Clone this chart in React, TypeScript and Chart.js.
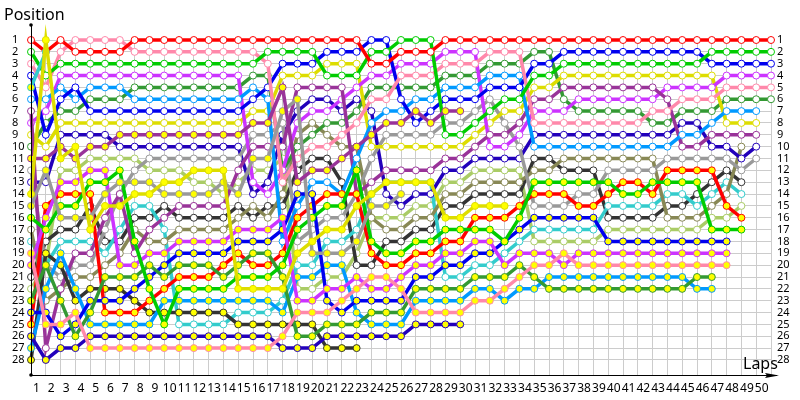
import React, { useEffect, useRef } from "react";
import { Chart, registerables } from "chart.js";

Chart.register(...registerables);

const lapLabels = ["1","2","3","4","5","6","7","8","9","10","11","12","13","14","15","16","17","18","19","20","21","22","23","24","25","26","27","28","29","30","31","32","33","34","35","36","37","38","39","40","41","42","43","44","45","46","47","48","49","50",""];

const RED = "#ff0000", GREEN = "#00cc00", PINK = "#ff88aa", BLUE = "#0000ee", SKY = "#0099ff", PURPLE = "#993399", VIOLET = "#cc33ff", YELLOW = "#dddd00", DGREEN = "#339933", GRAY = "#999999", NAVY = "#2200bb", OLIVE = "#888855", CYAN = "#33cccc", DARK = "#333333", LIME = "#aacc66";

const redW = [1,2,1,2,2,2,2,1,1,1, 1,1,1,1,1,1,1,1,1,1, 1,1,1,3,3,2,2,2,1,1, 1,1,1,1,1,1,1,1,1,1, 1,1,1,1,1,1,1,1,1,1,1];
const greenW = [2,4,3,3,3,3,3,3,3,3, 3,3,3,3,3,3,2,2,2,2, 4,4,4,2,2,1,1,1,9,9, 8,7,6,6,4,4,3,3,3,3, 3,3,3,3,3,3,2,2,2,2,2];
const pinkW = [3,5,2,1,1,1,1,2,2,2, 2,2,2,2,2,2,3,13,11,10, 10,9,8,6,6,4,4,4,3,3, 3,2,2,2,8,8,8,8,8,8, 8,8,7,7,6,6,6,5,5,5,5];
const blueW = [4,9,6,5,7,7,7,7,7,7, 7,7,7,7,7,6,5,3,3,3, 2,2,2,1,1,6,8,7,6,6, 6,5,5,5,3,3,2,2,2,2, 2,2,2,2,2,2,3,3,3,3,3];
const skyW = [6,6,5,6,5,5,5,6,6,6, 6,6,6,6,6,5,6,18,15,13, 13,14,11,8,7,7,6,6,5,5, 5,4,4,4,10,10,10,10,10,10, 10,10,10,10,9,9,8,7,7,7];
const purpleW = [7,27,22,19,19,16,14,19,17,16, 15,15,15,15,12,10,10,10,5,5, 5,5,14,13,12,12,12,12,11,11, 10,9,9,8,6,6,5,5,5,5, 5,5,5,6,10,10,9,9,9,9];
const violetW = [8,7,4,4,4,4,4,4,4,4, 4,4,4,4,4,13,14,12,8,7, 7,6,5,4,4,3,3,3,2,2, 2,10,10,9,7,7,7,6,6,6, 6,6,6,5,5,5,5,4,4,4,4];
const yellowW = [9,10,8,8,8,8,8,8,8,8, 8,8,8,8,8,7,7,4,4,4, 3,3,3,10,10,10,10,10,10,10, 9,8,7,7,5,5,4,4,4,4, 4,4,4,4,4,4,4,8,8,8];
const dgreenW = [10,8,7,7,6,6,6,5,5,5, 5,5,5,5,5,4,4,12,10,9, 8,8,7,5,5,5,5,5,4,4, 4,3,3,3,2,2,6,7,7,7, 7,7,8,8,7,7,7,6,6,6,6];
const grayW = [12,20,21,20,20,17,14,12,11,11, 11,11,11,11,11,9,9,8,18,17, 16,16,14,11,9,9,9,9,8,8, 7,6,8,10,15,15,15,14,14,12, 12,12,12,11,11,11,11,11,12,11];
const navyW = [13,13,9,9,9,9,10,10,10,10, 10,10,10,10,10,14,13,9,7,6, 6,7,6,7,14,15,14,14,12,12, 11,11,11,11,9,9,9,9,9,9, 9,9,9,9,8,8,10,10,11,10];
const oliveW = [17,23,22,21,21,20,19,17,18,18, 17,17,17,17,16,15,16,14,9,8, 9,10,10,16,17,17,16,16,14,14, 13,13,13,13,12,12,11,11,11,11, 11,11,11,16,16,16,15,14,10];
const cyanW = [18,20,18,18,18,19,17,15,15,17, 25,25,25,25,24,24,24,23,20,20, 18,18,17,14,13,13,13,13,21,21, 20,20,19,18,17,17,17,17,17,15, 15,15,15,14,14,15,14,13,14];
const darkW = [21,18,17,17,15,18,18,16,16,15, 16,16,16,16,15,16,15,15,12,11, 11,13,20,20,18,18,17,17,15,15, 14,14,14,14,11,11,12,12,12,16, 16,16,16,15,15,14,13,12,13];
const limeW = [22,20,12,12,11,11,11,11,12,12, 12,13,13,14,13,12,12,11,22,22, 21,21,19,16,16,16,15,15,13,13, 12,12,12,12,18,18,18,18,18,17, 17,17,17,17,17,17,16,16,15];

const cyanF = [5,2];
const purpleF = [11,11,10,11,10,10,9,9,9,9, 9,9,9,9,9,8,8,5,13,12, 12,11,10,9,8,8,7,8,7,7];
const yellowF = [14,1,11,10,17,15,15,14,14,13, 13,12,12,12,22,22,22,22,19,18, 17,17,15,14,13,13,13,13,16,16, 15,15,15];
const grayF = [15,12,16,16,16,14,13,13,13,14, 14,14,14,13,14,11,11,7,6,19, 19,19,18,15,15,14];
const greenF = [16,17,15,15,13,13,12,18,22,25, 22,22,22,22,21,21,21,20,17,16, 15,15,12,18,19,19,18,18,17,17, 17,17,18,16,13,13,13,13,13,13, 14,14,13,13,13,13,17,17,17];
const pinkF = [19,25,25,24,27,27,27,27,27,27, 27,27,27,27,27,27,27,26,24,24, 24,23,22,21,21,22,24,24,24,24, 23,23,22,21,20,20,19,20,20,20, 20,20,20,20,20,20,20,20];
const violetF = [20,16,13,13,12,12,20,20,19,19, 18,18,18,18,17,17,17,16,23,23, 22,22,21,22,22,21,20,20,19,19, 18,18,20,19,19,19,20,19,19,19, 19,19,19,19,19,19,19,19];
const dgreenF = [23,20,23,26,24,21,21,21,20,21, 20,20,20,21,20,19,19,21,26,26, 25,25,25,24,24,24,22,22,22,22, 21,21,21,20,21,22,22,22,22,22, 22,22,22,22,22,21,21];
const blueF = [24,24,26,25,23,23,23,22,21,20, 19,19,19,19,18,18,18,17,14,14, 23,24,23,23,23,23,21,21,20,20, 19,19,18,17,16,16,16,16,16,18, 18,18,18,18,18,18,18,18];
const redF = [25,15,14,14,14,24,24,24,23,22, 21,21,21,20,19,20,20,19,16,15, 14,14,14,19,20,20,19,19,18,18, 16,16,16,15,14,14,14,15,15,14, 13,13,14,12,12,12,12,15,16];
const navyF = [26,28,27,27,26,26,26,26,26,26, 26,26,26,26,26,26,26,27,27,27, 26,26,26,26,26,26,25,25,25,25];
const skyF = [27,22,19,22,25,25,25,25,25,23, 23,23,23,23,23,23,23,24,21,21, 20,20,24,25,25,25,23,23,23,23, 22,22,23,22,22,21,21,21,21,21, 21,21,21,21,21,22,22];
const darkF = [28,19,20,23,22,22,22,23,24,24, 24,24,24,24,25,25,25,25,25,25, 27,27,27];

// First entries are painted last (on top) by Chart.js.
const filledSeries: [number[], string][] = [
  [yellowF, YELLOW], [cyanF, CYAN], [purpleF, PURPLE], [grayF, GRAY], [greenF, GREEN], [pinkF, PINK], [violetF, VIOLET],
  [dgreenF, DGREEN], [blueF, BLUE], [redF, RED], [navyF, NAVY], [skyF, SKY], [darkF, DARK],
];
const openSeries: [number[], string][] = [
  [redW, RED], [greenW, GREEN], [pinkW, PINK], [blueW, BLUE], [skyW, SKY], [purpleW, PURPLE], [violetW, VIOLET], [yellowW, YELLOW],
  [dgreenW, DGREEN], [grayW, GRAY], [navyW, NAVY], [oliveW, OLIVE], [cyanW, CYAN], [darkW, DARK], [limeW, LIME],
];

const FONT = "Noto Sans";

const axesPlugin = {
  id: "axesArrows",
  afterDraw(chart: any) {
    const { ctx, chartArea: a } = chart;
    ctx.save();
    ctx.strokeStyle = "#000";
    ctx.fillStyle = "#000";
    ctx.lineWidth = 1;
    ctx.beginPath();
    ctx.moveTo(Math.floor(a.left) + 0.5, a.bottom + 0.5);
    ctx.lineTo(Math.floor(a.left) + 0.5, 25);
    ctx.moveTo(a.left - 1, Math.floor(a.bottom) + 0.5);
    ctx.lineTo(a.right + 6, Math.floor(a.bottom) + 0.5);
    ctx.stroke();
    ctx.beginPath();
    ctx.arc(a.left, 25, 1.8, 0, Math.PI * 2);
    ctx.fill();
    ctx.beginPath();
    ctx.arc(a.left, a.bottom, 1.8, 0, Math.PI * 2);
    ctx.fill();
    ctx.beginPath();
    ctx.moveTo(a.right + 8, a.bottom + 0.5);
    ctx.lineTo(a.right - 6, a.bottom - 2);
    ctx.lineTo(a.right - 4, a.bottom + 0.5);
    ctx.lineTo(a.right - 6, a.bottom + 3);
    ctx.closePath();
    ctx.fill();
    ctx.font = `16px "${FONT}"`;
    ctx.textBaseline = "middle";
    ctx.textAlign = "left";
    ctx.fillText("Position", 4, 15);
    ctx.fillText("Laps", 743, 364);
    ctx.restore();
  },
};

export default function App() {
  const ref = useRef<HTMLCanvasElement>(null);
  useEffect(() => {
    if (!ref.current) return;
    const makeSet = (values: number[], color: string, filled: boolean) => ({
      data: values,
      borderColor: color,
      borderWidth: 3.5,
      tension: 0,
      clip: false,
      pointRadius: 3.5,
      pointBorderWidth: 1,
      pointBorderColor: color,
      pointBackgroundColor: filled ? "#ffff00" : "#ffffff",
      yAxisID: "y",
    });
    const tickY = (v: any) => (Number.isInteger(v) && v <= 28 ? String(v) : "");
    const chart = new Chart(ref.current, {
      type: "line",
      data: {
        labels: lapLabels,
        datasets: [
          ...filledSeries.map(([v, c]) => makeSet(v, c, true)),
          ...openSeries.map(([v, c]) => makeSet(v, c, false)),
        ],
      },
      options: {
        animation: false,
        responsive: false,
        layout: { padding: { top: 40, left: 12, right: 0, bottom: 0 } },
        plugins: { legend: { display: false }, title: { display: false }, tooltip: { enabled: false } },
        scales: {
          x: {
            type: "category",
            offset: false,
            afterFit: (s: any) => { s.height = 25; },
            grid: { color: "#cccccc", lineWidth: 1, drawTicks: false },
            border: { display: false },
            ticks: { autoSkip: false, maxRotation: 0, minRotation: 0, labelOffset: 5.5, padding: 6, color: "#000", font: { family: FONT, size: 12 } },
          },
          y: {
            type: "linear",
            position: "left",
            reverse: true,
            min: 1,
            max: 29.27,
            afterFit: (s: any) => { s.width = 19; },
            grid: { color: "#cccccc", lineWidth: 1, drawTicks: false },
            border: { display: false },
            ticks: { stepSize: 1, autoSkip: false, crossAlign: "far", padding: 0, color: "#000", font: { family: FONT, size: 11 }, callback: tickY },
          },
          y2: {
            type: "linear",
            position: "right",
            reverse: true,
            min: 1,
            max: 29.27,
            afterFit: (s: any) => { s.width = 29; },
            grid: { display: false, drawTicks: false },
            border: { display: false },
            ticks: { stepSize: 1, autoSkip: false, padding: 6, color: "#000", font: { family: FONT, size: 11 }, callback: tickY },
          },
        },
      },
      plugins: [axesPlugin],
    } as any);
    return () => chart.destroy();
  }, []);
  return (
    <div style={{ position: "fixed", left: 0, top: 0, width: 800, height: 400, background: "#fff" }}>
      <canvas ref={ref} width={800} height={400} style={{ display: "block" }} />
    </div>
  );
}
